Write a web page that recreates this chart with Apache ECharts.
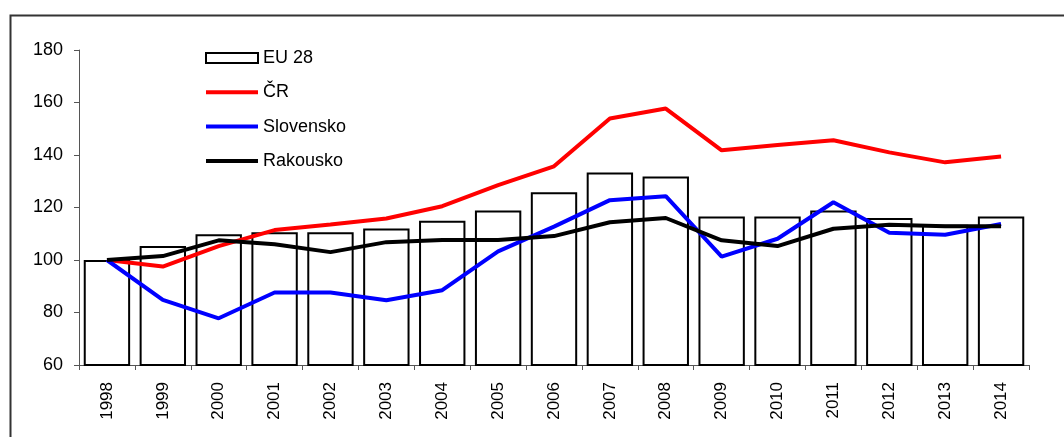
<!DOCTYPE html>
<html>
<head>
<meta charset="utf-8">
<script src="https://cdn.jsdelivr.net/npm/echarts@6/dist/echarts.min.js"></script>
<style>
html,body{margin:0;padding:0;background:#fff;}
#c{width:1064px;height:437px;}
</style>
</head>
<body>
<div id="c"></div>
<script>
const years = ['1998','1999','2000','2001','2002','2003','2004','2005','2006','2007','2008','2009','2010','2011','2012','2013','2014'];
const eu28 = [100,105.3,109.8,110.6,110.6,112,115,118.9,125.8,133.3,131.8,116.6,116.6,118.9,116,113.4,116.6];
const cr = [100,97.5,105.3,111.4,113.5,115.8,120.5,128.5,135.7,153.9,157.7,141.8,143.8,145.6,141,137.2,139.4];
const slovensko = [100,84.8,77.8,87.6,87.6,84.7,88.5,103.3,112.7,122.8,124.3,101.3,108.1,122,110.4,109.6,113.7];
const rakousko = [100,101.5,107.5,106,103,106.8,107.6,107.6,109.1,114.4,116,107.5,105.3,111.9,113.4,112.9,112.9];
const yTicks = {min:60, max:180, interval:20};

const chart = echarts.init(document.getElementById('c'), null, {renderer:'canvas'});
const font = 'Liberation Sans, Arial, sans-serif';
const lineIcon = 'path://M0,0L52,0L52,4L0,4Z';
chart.setOption({
  animation:false,
  backgroundColor:'#fff',
  graphic:[{
    type:'rect', left:8, top:13, z:-10, silent:true,
    shape:{width:1200, height:600},
    style:{fill:'none', stroke:'#333', lineWidth:2}
  }],
  grid:{left:79, right:35, top:50, bottom:72, containLabel:false},
  legend:{
    orient:'vertical', left:200, top:44, itemWidth:52, itemHeight:10, itemGap:16.3,
    textStyle:{fontFamily:font, fontSize:18, color:'#000', padding:[0,0,0,0]},
    data:[{name:'EU 28', icon:'rect'},{name:'ČR', icon:lineIcon},{name:'Slovensko', icon:lineIcon},{name:'Rakousko', icon:lineIcon}]
  },
  xAxis:{
    type:'category', data:years, boundaryGap:true,
    axisLine:{lineStyle:{color:'#555', width:1}},
    axisTick:{show:true, length:5, alignWithLabel:false, lineStyle:{color:'#555'}},
    axisLabel:{rotate:90, fontFamily:font, fontSize:17, color:'#000', margin:17, interval:0}
  },
  yAxis:{
    type:'value', min:yTicks.min, max:yTicks.max, interval:yTicks.interval,
    splitLine:{show:false},
    axisLine:{show:true, lineStyle:{color:'#555', width:1}},
    axisTick:{show:true, length:5, lineStyle:{color:'#555'}},
    axisLabel:{fontFamily:font, fontSize:18, color:'#000', margin:16}
  },
  series:[
    {name:'EU 28', type:'bar', data:eu28, barCategoryGap:'17%', z:1,
     itemStyle:{color:'#fff', borderColor:'#000', borderWidth:2}},
    {name:'ČR', type:'line', data:cr, symbol:'none', z:3,
     lineStyle:{color:'#ff0000', width:4}, itemStyle:{color:'#ff0000'}},
    {name:'Slovensko', type:'line', data:slovensko, symbol:'none', z:3,
     lineStyle:{color:'#0000ff', width:4}, itemStyle:{color:'#0000ff'}},
    {name:'Rakousko', type:'line', data:rakousko, symbol:'none', z:4,
     lineStyle:{color:'#000', width:4}, itemStyle:{color:'#000'}}
  ]
});
</script>
</body>
</html>
